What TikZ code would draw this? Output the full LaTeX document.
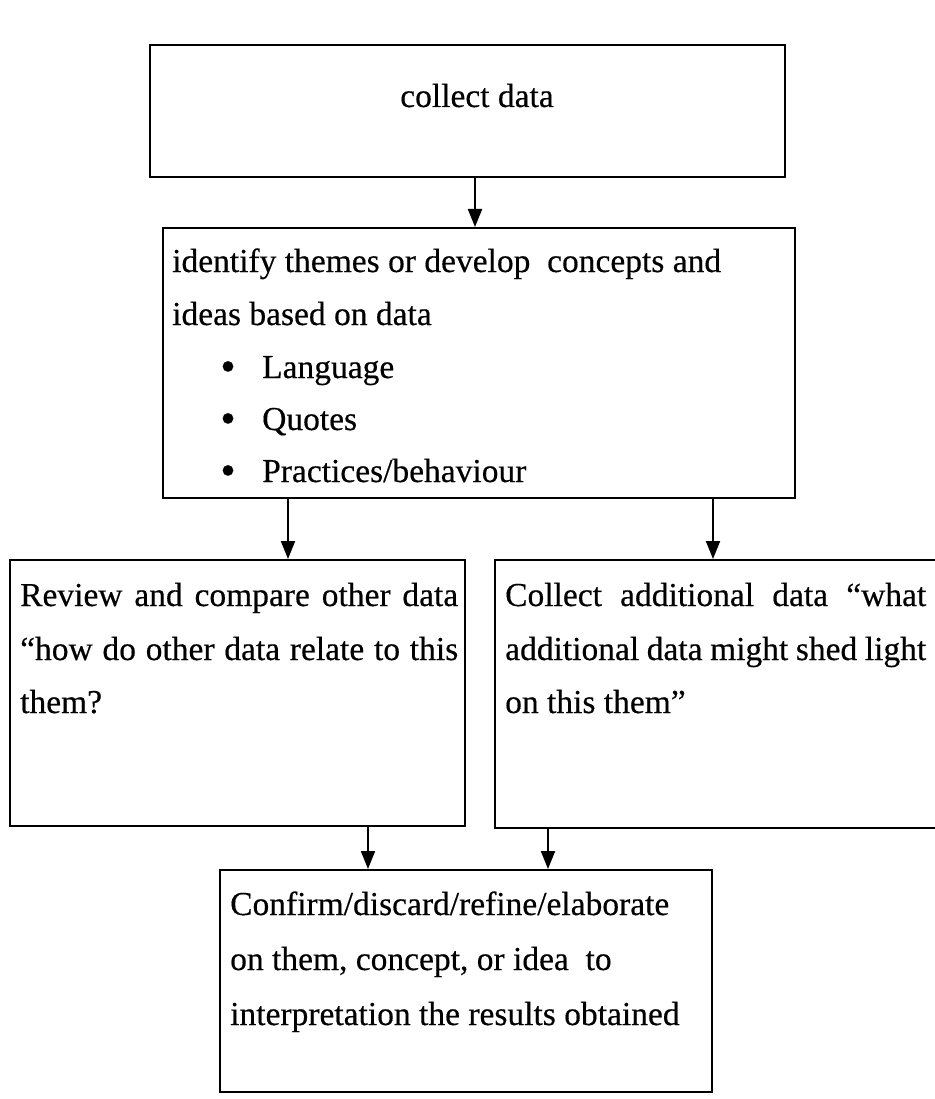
\documentclass[tikz,border=0pt]{standalone}
\usepackage{fontspec}
\setmainfont[FakeBold=0.4]{Liberation Serif}
\usetikzlibrary{arrows.meta,calc}
\begin{document}
\begin{tikzpicture}[x=1pt,y=-1pt]
\tikzset{
 box/.style={draw, line width=2pt, inner sep=0pt, rectangle},
 txt/.style={anchor=base west, inner sep=0pt, font=\fontsize{33.5}{40}\selectfont},
 ctxt/.style={anchor=base, inner sep=0pt, font=\fontsize{33.5}{40}\selectfont},
 bul/.style={anchor=base, inner sep=0pt, font=\fontsize{44}{44}\selectfont},
 arr/.style={line width=2pt, -{Triangle[width=14pt,length=18pt]}},
}
\useasboundingbox (0,0) rectangle (934,1099);
% boxes
\node[box, minimum width=635pt, minimum height=132pt] (b1) at (467.5,111) {};
\node[box, minimum width=632pt, minimum height=270pt] (b2) at (479,363) {};
\node[box, minimum width=455pt, minimum height=266pt] (b3) at (237.5,693) {};
\node[box, minimum width=449pt, minimum height=268pt] (b4) at (719.5,694) {};
\node[box, minimum width=492pt, minimum height=222pt] (b5) at (466,981) {};
% texts
\node[ctxt] (t1) at (477,107) {collect data};
\node[txt] (t2a) at (172,272) {identify themes or develop\ \ concepts and};
\node[txt] (t2b) at (172,325) {ideas based on data};
\node[bul] (u1) at (228,381) {\textbullet};
\node[bul] (u2) at (228,433) {\textbullet};
\node[bul] (u3) at (228,485) {\textbullet};
\node[txt] (t2c) at (262,378) {Language};
\node[txt] (t2d) at (262,430) {Quotes};
\node[txt] (t2e) at (262,482) {Practices/behaviour};
\node[txt] (t3a) at (20,606) {\makebox[438pt][s]{Review and compare other data}};
\node[txt] (t3b) at (20,660) {\makebox[438pt][s]{“how do other data relate to this}};
\node[txt] (t3c) at (20,713) {them?};
\node[txt] (t4a) at (505,606) {\makebox[421pt][s]{Collect additional data “what}};
\node[txt] (t4b) at (505,660) {\makebox[421pt][s]{additional data might shed light}};
\node[txt] (t4c) at (505,713) {on this them”};
\node[txt] (t5a) at (230,915) {Confirm/discard/refine/elaborate};
\node[txt] (t5b) at (230,970) {on them, concept, or idea\ \ to};
\node[txt] (t5c) at (230,1025) {interpretation the results obtained};
% arrows
\coordinate (x1) at (475,0);
\coordinate (x2) at (288,0);
\coordinate (x3) at (713,0);
\coordinate (x4) at (368,0);
\coordinate (x5) at (548,0);
\draw[arr] (b1.south -| x1) -- (b2.north -| x1);
\draw[arr] (b2.south -| x2) -- (b3.north -| x2);
\draw[arr] (b2.south -| x3) -- (b4.north -| x3);
\draw[arr] (b3.south -| x4) -- (b5.north -| x4);
\draw[arr] (b4.south -| x5) -- (b5.north -| x5);
\end{tikzpicture}
\end{document}
